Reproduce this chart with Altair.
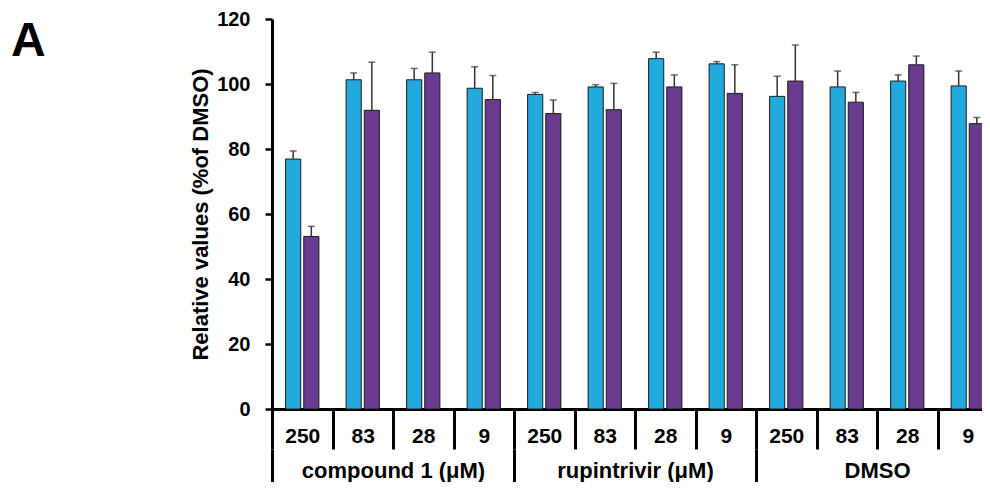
import altair as alt
import pandas as pd

groups = ["compound 1 (μM)", "rupintrivir (μM)", "DMSO"]
concs = ["250", "83", "28", "9"]
series = ["set 1", "set 2"]
blue_vals = [76.9, 101.3, 101.3, 98.7, 96.8, 99.1, 107.8, 106.2, 96.2, 99.1, 100.9, 99.4]
blue_err = [2.5, 2.1, 3.5, 6.6, 0.6, 0.7, 2.0, 0.7, 6.2, 4.9, 1.9, 4.6]
purple_vals = [53.1, 91.9, 103.4, 95.2, 90.9, 92.1, 99.1, 97.1, 100.9, 94.4, 105.9, 87.8]
purple_err = [3.1, 14.8, 6.4, 7.4, 4.2, 8.1, 3.7, 8.8, 11.1, 3.0, 2.7, 1.9]
y_ticks = [0, 20, 40, 60, 80, 100, 120]

BLUE = "#22aade"
PURPLE = "#6a3a8f"
FONT = "Liberation Sans"

keys = [f"{g}|{c}" for g in groups for c in concs]
rows = []
for i, k in enumerate(keys):
    rows.append(dict(key=k, series=series[0], value=blue_vals[i], top=blue_vals[i] + blue_err[i]))
    rows.append(dict(key=k, series=series[1], value=purple_vals[i], top=purple_vals[i] + purple_err[i]))
df = pd.DataFrame(rows)

RANGE = [0, 726]

xscale = alt.Scale(domain=keys, range=RANGE, paddingInner=0, paddingOuter=0)
x_axis = alt.Axis(title=None, labelExpr="split(datum.label, '|')[1]", labelAngle=0,
                  tickBand="extent", tickSize=40, tickWidth=3, tickColor="black",
                  domainWidth=3, domainColor="black", labelFontSize=21,
                  labelFontWeight="bold", labelPadding=-24, labelColor="black",
                  labelFont=FONT, labelBaseline="top", labelLimit=400)
x = alt.X("key:N", sort=keys, scale=xscale, axis=x_axis)
xo = alt.XOffset("series:N", sort=series,
                 scale=alt.Scale(domain=series, paddingInner=1 / 6, paddingOuter=0.75))
y_axis = alt.Axis(values=y_ticks, title="Relative values (%of DMSO)", grid=False,
                  tickSize=7, tickWidth=2.5, tickColor="black", domainWidth=3,
                  domainColor="black", labelFontSize=20, labelFontWeight="bold",
                  labelColor="black", labelFont=FONT, labelPadding=15,
                  titleFontSize=22, titleFontWeight="bold", titleColor="black",
                  titleFont=FONT, titlePadding=4, titleLimit=600)
yscale = alt.Scale(domain=[0, 120], nice=False)

bars = alt.Chart(df).mark_bar(stroke="#1a1a1a", strokeWidth=1).encode(
    x=x, xOffset=xo,
    y=alt.Y("value:Q", scale=yscale, axis=y_axis),
    color=alt.Color("series:N", scale=alt.Scale(domain=series, range=[BLUE, PURPLE]), legend=None),
)
err = alt.Chart(df).mark_rule(color="#333333", strokeWidth=1.5).encode(
    x=x, xOffset=xo, y=alt.Y("value:Q", scale=yscale, axis=y_axis), y2="top:Q"
)
caps = alt.Chart(df).mark_tick(color="#333333", thickness=1.5, size=7, orient="horizontal").encode(
    x=x, xOffset=xo, y=alt.Y("top:Q", scale=yscale, axis=y_axis)
)
main = alt.layer(bars, err, caps)

gdf = pd.DataFrame({"group": groups})
g_axis = alt.Axis(orient="bottom", offset=40, title=None, domain=False, labelAngle=0,
                  tickBand="extent", tickSize=40, tickWidth=3, tickColor="black",
                  labelFontSize=22, labelFontWeight="bold", labelPadding=-29,
                  labelColor="black", labelFont=FONT, labelBaseline="top", labelLimit=400)
grp = alt.Chart(gdf).mark_point(opacity=0).encode(
    x=alt.X("group:N", sort=groups,
            scale=alt.Scale(domain=groups, range=RANGE, paddingInner=0, paddingOuter=0),
            axis=g_axis),
    y=alt.value(0),
)

adf = pd.DataFrame({"t": ["A"]})
panel = alt.Chart(adf).mark_text(font=FONT, fontSize=48, fontWeight="bold", align="left",
                                 baseline="alphabetic", color="black").encode(
    text="t:N", x=alt.value(-261), y=alt.value(37)
)

chart = alt.layer(main, grp, panel).resolve_scale(x="independent").properties(
    width=710, height=390,
    padding={"left": 264, "top": 11, "right": 0, "bottom": 73},
    autosize=alt.AutoSizeParams(type="none"),
).configure_view(stroke=None)

chart.save("out.html", embed_options={"renderer": "svg", "actions": False})
